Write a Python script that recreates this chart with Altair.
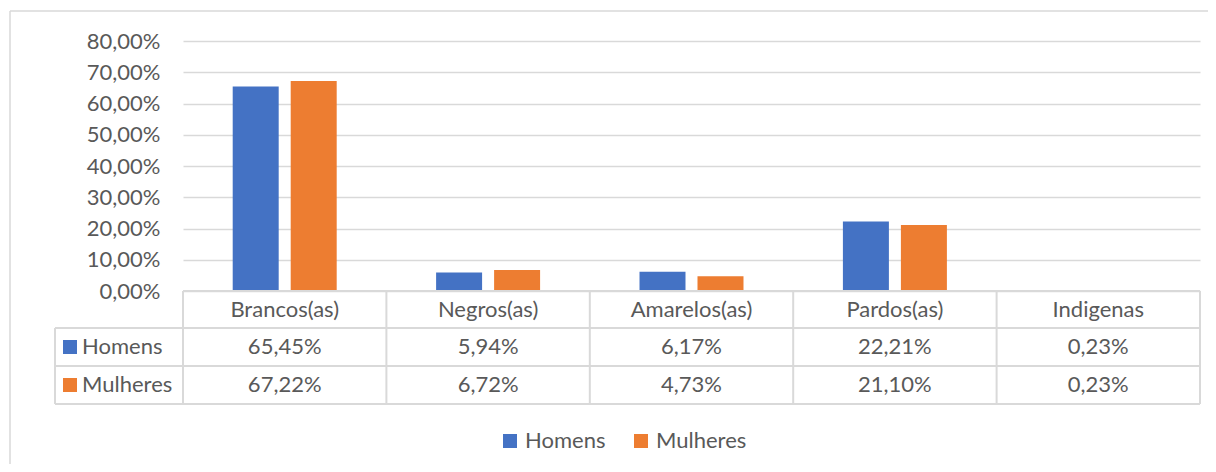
import altair as alt
import pandas as pd

# ---- data ----
categories = ["Brancos(as)", "Negros(as)", "Amarelos(as)", "Pardos(as)", "Indigenas"]
series_names = ["Homens", "Mulheres"]
homens = [65.45, 5.94, 6.17, 22.21, 0.23]
mulheres = [67.22, 6.72, 4.73, 21.10, 0.23]
y_ticks = [0.0, 0.1, 0.2, 0.3, 0.4, 0.5, 0.6, 0.7, 0.8]
colors = ["#4472C4", "#ED7D31"]

TXT = "#595959"
GRID = "#d9d9d9"
FONT = "Lato"
FS = 22

W, H = 1017, 250

rows = []
for s, vals in zip(series_names, [homens, mulheres]):
    for c, v in zip(categories, vals):
        rows.append({"cat": c, "serie": s, "valor": v / 100.0,
                     "rotulo": f"{v:.2f}%".replace(".", ",")})
df = pd.DataFrame(rows)
df_cat = pd.DataFrame({"cat": categories})
one = pd.DataFrame({"k": [0]})

xscale = alt.Scale(domain=categories, paddingInner=0, paddingOuter=0)
X = alt.X("cat:N", sort=categories, scale=xscale, axis=None)

bars = alt.Chart(df).mark_bar().encode(
    x=X,
    xOffset=alt.XOffset("serie:N", sort=series_names,
                        scale=alt.Scale(paddingInner=0.207, paddingOuter=0.857)),
    y=alt.Y("valor:Q", scale=alt.Scale(domain=[0, 0.8]),
            axis=alt.Axis(values=y_ticks, title=None,
                          labelExpr="replace(format(datum.value, '.2%'), '.', ',')",
                          grid=True, gridColor=GRID, gridWidth=1.5,
                          domain=False, ticks=False, labelPadding=23,
                          labelFontSize=FS, labelFont=FONT, labelColor=TXT)),
    color=alt.Color("serie:N", sort=series_names,
                    scale=alt.Scale(domain=series_names, range=colors),
                    legend=alt.Legend(orient="none", legendX=316, legendY=389,
                                      direction="horizontal", title=None,
                                      symbolType="square", symbolSize=196,
                                      symbolStrokeWidth=0, labelFontSize=FS,
                                      labelFont=FONT, labelColor=TXT,
                                      labelOffset=4, columnPadding=24)),
)

# table header: category names
header = alt.Chart(df_cat).mark_text(fontSize=FS, font=FONT, color=TXT, baseline="middle").encode(
    x=X, y=alt.value(269), text="cat:N")

row_y = {"Homens": 306, "Mulheres": 344}
value_rows = []
for i, s in enumerate(series_names):
    value_rows.append(
        alt.Chart(df).transform_filter(alt.datum.serie == s)
        .mark_text(fontSize=FS, font=FONT, color=TXT, baseline="middle")
        .encode(x=X, y=alt.value(row_y[s]), text="rotulo:N")
    )
    value_rows.append(
        alt.Chart(one).mark_rect(color=colors[i]).encode(
            x=alt.value(-120), x2=alt.value(-106),
            y=alt.value(row_y[s] - 7), y2=alt.value(row_y[s] + 7))
    )
    value_rows.append(
        alt.Chart(one).mark_text(fontSize=FS, font=FONT, color=TXT,
                                 align="left", baseline="middle").encode(
            x=alt.value(-101), y=alt.value(row_y[s]), text=alt.value(s))
    )

# table grid lines
lines = []
lines.append(alt.Chart(one).mark_rule(color=GRID, strokeWidth=2).encode(
    x=alt.value(0), x2=alt.value(W), y=alt.value(250)))
for yy in [287, 325, 363]:
    lines.append(alt.Chart(one).mark_rule(color=GRID, strokeWidth=2).encode(
        x=alt.value(-128), x2=alt.value(W), y=alt.value(yy)))
lines.append(alt.Chart(df_cat).mark_rule(color=GRID, strokeWidth=2).encode(
    x=alt.X("cat:N", sort=categories, scale=xscale, axis=None, bandPosition=0),
    y=alt.value(250), y2=alt.value(363)))
lines.append(alt.Chart(one).mark_rule(color=GRID, strokeWidth=2).encode(
    x=alt.value(W), y=alt.value(250), y2=alt.value(363)))
lines.append(alt.Chart(one).mark_rule(color=GRID, strokeWidth=2).encode(
    x=alt.value(-128), y=alt.value(287), y2=alt.value(363)))

# outer chart border (left and top visible)
border = [
    alt.Chart(one).mark_rule(color=GRID, strokeWidth=1.5).encode(
        x=alt.value(-173), x2=alt.value(W + 30), y=alt.value(-30)),
    alt.Chart(one).mark_rule(color=GRID, strokeWidth=1.5).encode(
        x=alt.value(-173), y=alt.value(-30), y2=alt.value(H + 200)),
]

chart = alt.layer(*border, bars, *lines, header, *value_rows).properties(
    width=W, height=H,
    autosize=alt.AutoSizeParams(type="none"),
    padding={"left": 175, "top": 33, "right": 8, "bottom": 173},
    background="white",
).configure_view(stroke=None)

chart.save("out.html", embed_options={"renderer": "svg", "actions": False})
